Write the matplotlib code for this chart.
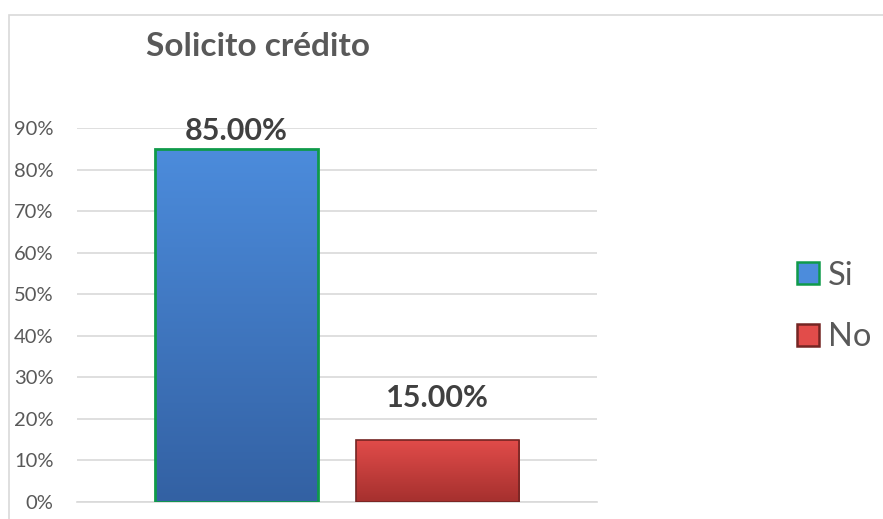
import numpy as np
import matplotlib
matplotlib.use("Agg")
import matplotlib.pyplot as plt
from matplotlib.patches import Rectangle
from matplotlib.lines import Line2D
from matplotlib.colors import LinearSegmentedColormap

# ---- data ----
title = "Solicito crédito"
series = ["Si", "No"]
values = [0.85, 0.15]
value_labels = ["85.00%", "15.00%"]
yticks = [0, 0.1, 0.2, 0.3, 0.4, 0.5, 0.6, 0.7, 0.8, 0.9]
ytick_labels = ["0%", "10%", "20%", "30%", "40%", "50%", "60%", "70%", "80%", "90%"]

# ---- styles ----
face_top = ["#4c8cdc", "#e24c4a"]
face_bot = ["#3361a3", "#a5302e"]
edges = ["#0f9a4a", "#742523"]
edge_w = [2.0, 1.2]
label_gap = [3, 20]  # points
font = "Lato"
gray = "#595959"

fig = plt.figure(figsize=(8.83, 5.19), dpi=100)
fig.patch.set_facecolor("white")
W, H = 883, 519
# chart border
fig.patches.append(Rectangle((9 / W, -0.1), 1.1, (1 - 15 / H) + 0.1, transform=fig.transFigure,
                             fill=False, edgecolor="#d9d9d9", linewidth=1.2))

ax = fig.add_axes([77 / W, 1 - 502 / H, (597 - 77) / W, (502 - 128) / H])
ax.set_xlim(-0.5, 0.5)
ax.set_ylim(0, 0.9)

width = 0.3135
offsets = [-0.1935, 0.1925]
for i, (s, v) in enumerate(zip(series, values)):
    bars = ax.bar(offsets[i], v, width=width, color=face_top[i], edgecolor="none", zorder=3)
    b = bars[0]
    cmap = LinearSegmentedColormap.from_list("g", [face_bot[i], face_top[i]])
    grad = np.linspace(0, 1, 256).reshape(-1, 1)
    x0, x1 = b.get_x(), b.get_x() + b.get_width()
    im = ax.imshow(grad, extent=(x0, x1, 0, v), origin="lower", aspect="auto",
                   cmap=cmap, zorder=3.5)
    im.set_clip_path(b)
    ax.bar(offsets[i], v, width=width, fill=False, edgecolor=edges[i], linewidth=edge_w[i], zorder=4)
    ax.annotate(value_labels[i], (offsets[i], v), xytext=(0, label_gap[i]), textcoords="offset points",
                ha="center", va="bottom", fontsize=22, fontweight="bold", color="#404040",
                family=font, zorder=5)

ax.set_yticks(yticks)
ax.set_yticklabels(ytick_labels, family=font, fontsize=14.5, color=gray)
ax.set_xticks([])
ax.tick_params(axis="y", length=0, pad=17)
ax.grid(axis="y", color="#d9d9d9", linewidth=1.2, zorder=0)
ax.set_axisbelow(True)
for sp in ["top", "right", "left"]:
    ax.spines[sp].set_visible(False)
ax.spines["bottom"].set_color("#d9d9d9")
ax.spines["bottom"].set_linewidth(1.2)

fig.text(146 / W, 1 - 47 / H, title, ha="left", va="center", fontsize=24,
         fontweight="bold", color=gray, family=font)

handles = [Line2D([], [], marker="s", linestyle="none", markersize=16,
                  markerfacecolor=face_top[i], markeredgecolor=edges[i], markeredgewidth=1.8)
           for i in range(len(series))]
leg = fig.legend(handles, series, loc="center left", bbox_to_anchor=(797 / W, 1 - 306.5 / H),
                 frameon=False, prop={"family": font, "size": 23.5}, labelcolor=gray,
                 handletextpad=0.25, labelspacing=0.98, handlelength=0.7, borderpad=0,
                 borderaxespad=0)

fig.savefig("out.png", dpi=100)
